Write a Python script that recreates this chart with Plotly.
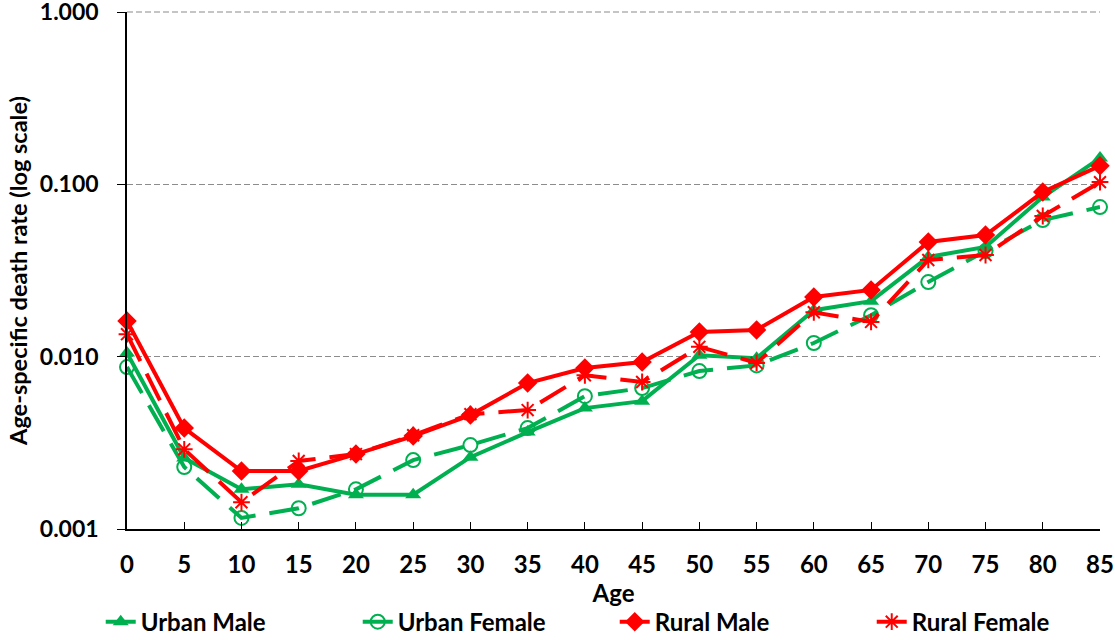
import plotly.graph_objects as go

ages = [0, 5, 10, 15, 20, 25, 30, 35, 40, 45, 50, 55, 60, 65, 70, 75, 80, 85]
urban_male = [0.0105, 0.00258, 0.0017, 0.00182, 0.00158, 0.00158, 0.00261, 0.00365, 0.00503, 0.00552,
              0.0102, 0.0098, 0.0186, 0.0210, 0.0379, 0.0433, 0.0844, 0.142]
urban_female = [0.0087, 0.00229, 0.00116, 0.00132, 0.0017, 0.00251, 0.00307, 0.00385, 0.0059, 0.00657,
                0.00825, 0.0089, 0.0120, 0.0174, 0.0271, 0.0410, 0.0620, 0.0738]
rural_male = [0.0161, 0.00385, 0.00217, 0.00217, 0.00272, 0.00346, 0.00458, 0.00703, 0.0086, 0.0093,
              0.0139, 0.0143, 0.0222, 0.0244, 0.0463, 0.0508, 0.0902, 0.128]
rural_female = [0.0135, 0.0029, 0.00143, 0.00248, 0.00272, 0.0035, 0.00464, 0.0049, 0.0078, 0.00713,
                0.0114, 0.0092, 0.0181, 0.0159, 0.0364, 0.0389, 0.0655, 0.103]
y_ticks = [0.001, 0.01, 0.1, 1]
y_tick_text = ["0.001", "0.010", "0.100", "1.000"]

GREEN = "#00B050"
RED = "#FF0000"
DASH = "30px,14px"
FONT = "Lato, Open Sans, Arial"
GRID = "#8c8c8c"

fig = go.Figure()
fig.add_trace(go.Scatter(x=ages, y=urban_male, name="Urban Male", mode="lines+markers",
                         line=dict(color=GREEN, width=4),
                         marker=dict(symbol="triangle-up", size=14, color=GREEN),
                         cliponaxis=False))
fig.add_trace(go.Scatter(x=ages, y=urban_female, name="Urban Female", mode="lines+markers",
                         line=dict(color=GREEN, width=4, dash=DASH),
                         marker=dict(symbol="circle-open", size=14, color=GREEN, line=dict(width=2)),
                         cliponaxis=False))
fig.add_trace(go.Scatter(x=ages, y=rural_male, name="Rural Male", mode="lines+markers",
                         line=dict(color=RED, width=4),
                         marker=dict(symbol="diamond", size=15, color=RED),
                         cliponaxis=False))
fig.add_trace(go.Scatter(x=ages, y=rural_female, name="Rural Female", mode="lines+markers",
                         line=dict(color=RED, width=4, dash=DASH),
                         marker=dict(symbol="asterisk-open", size=14, color=RED, line=dict(width=2, color=RED)),
                         cliponaxis=False))

# top gridline at the 1.000 tick (plotly omits gridlines at the range edge)
fig.add_shape(type="line", xref="paper", x0=0, x1=1, yref="paper", y0=1, y1=1,
              line=dict(color=GRID, width=1.2, dash="6px,3px"), layer="below")

fig.update_layout(
    width=1115, height=640,
    margin=dict(l=127, r=15, t=12, b=111, autoexpand=False),
    plot_bgcolor="white", paper_bgcolor="white",
    showlegend=True,
    legend=dict(orientation="h", x=-0.027, xanchor="left", y=-0.18, yanchor="middle",
                font=dict(family=FONT, size=24, color="black", weight="bold"),
                entrywidth=212, entrywidthmode="pixels", borderwidth=0),
    xaxis=dict(range=[0, 85], tickvals=ages, ticktext=[str(a) for a in ages], automargin=False,
               showgrid=False, zeroline=False, showline=True, linecolor="black", linewidth=1.5,
               ticks="inside", ticklen=7, tickcolor="black", ticklabelstandoff=13,
               tickfont=dict(family=FONT, size=24, color="black", weight="bold"),
               title=dict(text="Age", font=dict(family=FONT, size=24, color="black", weight="bold"),
                          standoff=0)),
    yaxis=dict(type="log", range=[-3, 0], tickvals=y_ticks, ticktext=y_tick_text, automargin=False,
               ticklabeloverflow="allow",
               showgrid=True, gridcolor=GRID, griddash="6px,3px", gridwidth=1.2,
               zeroline=False, showline=True, linecolor="black", linewidth=1.5,
               ticks="outside", ticklen=8, tickcolor="black", ticklabelstandoff=14,
               tickfont=dict(family=FONT, size=23, color="black", weight="bold"),
               title=dict(text="Age-specific death rate (log scale)",
                          font=dict(family=FONT, size=23.5, color="black", weight="bold"),
                          standoff=6)),
)

fig.write_html("out.html")
